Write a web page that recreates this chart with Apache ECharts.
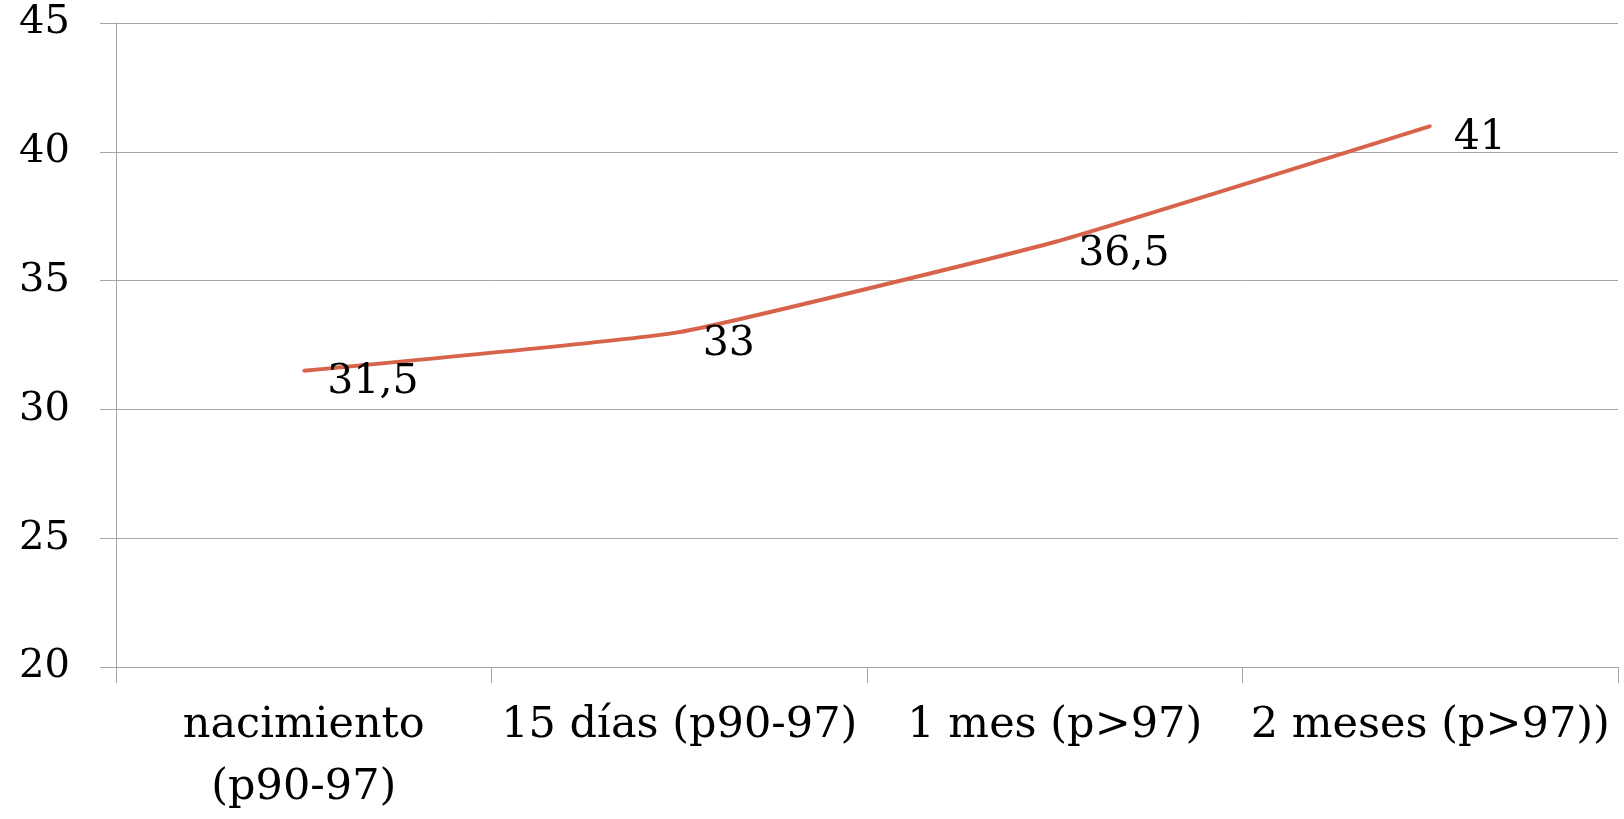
<!DOCTYPE html>
<html>
<head>
<meta charset="utf-8">
<script src="https://cdn.jsdelivr.net/npm/echarts@6/dist/echarts.min.js"></script>
<style>
  html, body {margin: 0; padding: 0; background: #fff;}
  #chart {width: 1624px; height: 819px;}
</style>
</head>
<body>
<div id="chart"></div>
<script>
// categorias del eje x
const categories = ['nacimiento\n(p90-97)', '15 días (p90-97)', '1 mes (p>97)', '2 meses (p>97))'];
// valores de la serie
const values = [31.5, 33, 36.5, 41];
// eje y
const yMin = 20;
const yMax = 45;
const yStep = 5;

const font = '"DejaVu Serif", serif';
const gridColor = '#a6a6a6';
const lineColor = '#D7634A';

let chart = echarts.init(document.getElementById('chart'));
chart.setOption({
  backgroundColor: '#fff',
  animation: false,
  grid: {left: 116, right: 6, top: 23, bottom: 146, containLabel: false},
  xAxis: {
    type: 'category',
    data: categories,
    boundaryGap: true,
    axisLine: {lineStyle: {color: gridColor, width: 1}},
    axisTick: {show: true, length: 16, lineStyle: {color: gridColor}},
    axisLabel: {
      interval: 0,
      margin: 28,
      color: '#000',
      fontFamily: font,
      fontSize: 43,
      lineHeight: 62
    }
  },
  yAxis: {
    type: 'value',
    min: yMin,
    max: yMax,
    interval: yStep,
    axisLine: {show: true, lineStyle: {color: gridColor, width: 1}},
    axisTick: {show: true, length: 16, lineStyle: {color: gridColor}},
    splitLine: {lineStyle: {color: gridColor, width: 1}},
    axisLabel: {
      margin: 46,
      padding: [8, 0, 0, 0],
      color: '#000',
      fontFamily: font,
      fontSize: 40
    }
  },
  series: [{
    type: 'line',
    data: values,
    smooth: 0.12,
    showSymbol: true,
    symbol: 'circle',
    symbolSize: 3,
    itemStyle: {color: lineColor},
    lineStyle: {color: lineColor, width: 4},
    label: {
      show: true,
      position: 'right',
      distance: 22,
      offset: [0, 12],
      color: '#000',
      fontFamily: font,
      fontSize: 41,
      formatter: p => String(p.value).replace('.', ',')
    }
  }]
});
</script>
</body>
</html>
